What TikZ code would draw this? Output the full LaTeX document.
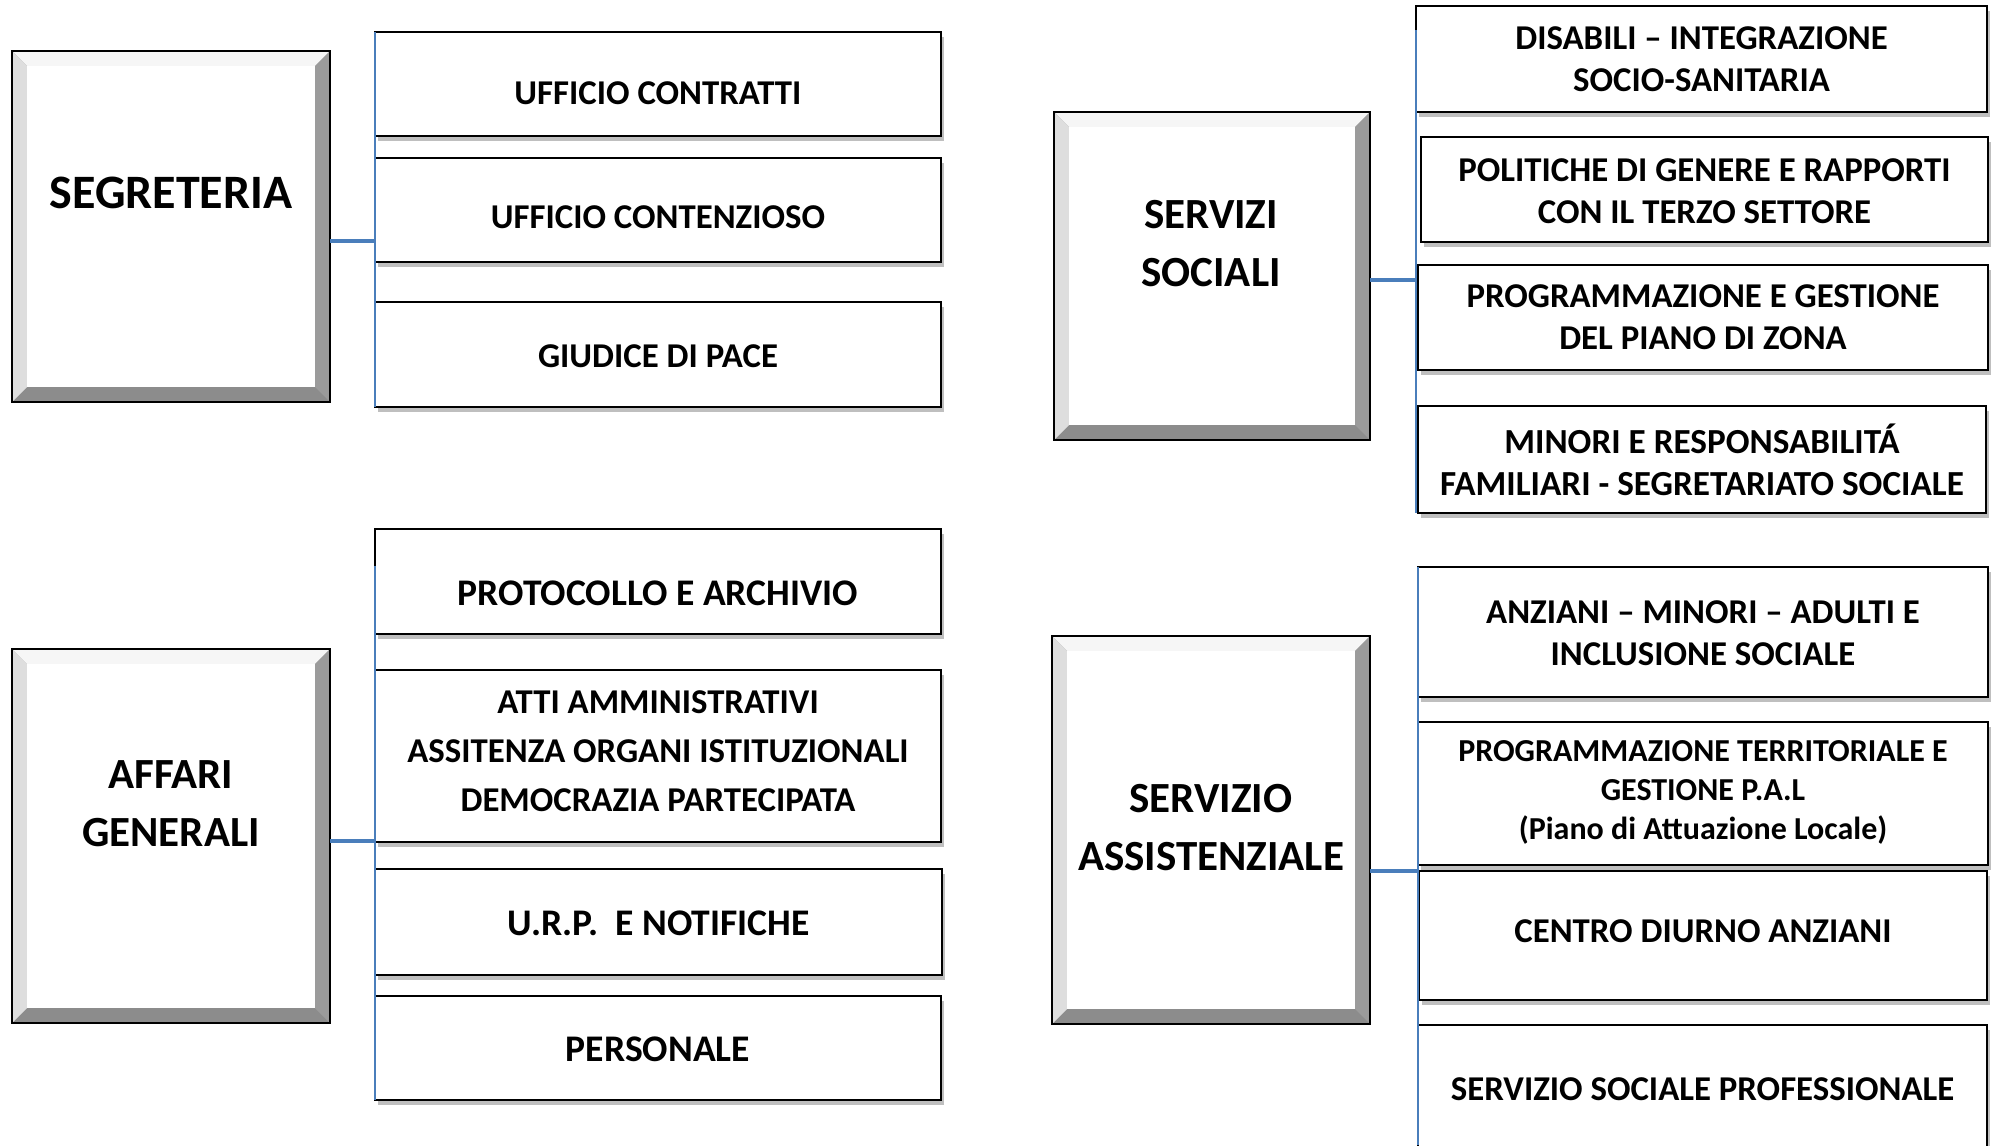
\documentclass[tikz,border=0pt]{standalone}
\usepackage{fontspec}
\setmainfont{Carlito}
\usetikzlibrary{shadows,calc}
\definecolor{bus}{RGB}{74,126,187}
\definecolor{bvL}{RGB}{222,222,222}
\definecolor{bvT}{RGB}{246,246,246}
\definecolor{bvR}{RGB}{155,155,155}
\definecolor{bvB}{RGB}{140,140,140}
\tikzset{
 sbox/.style={draw=black, line width=1pt, fill=white, inner sep=0pt, outer sep=0pt,
   drop shadow={shadow xshift=1.5pt, shadow yshift=-2.5pt, opacity=0.25, fill=black}},
 boxtext/.style={align=center, inner sep=0pt},
 bbox/.style={draw=black, line width=1pt, inner sep=0pt, outer sep=0pt, fill=bvB},
 btext/.style={align=center, font=\fontsize{21.5pt}{29pt}\selectfont\bfseries, inner sep=0pt},
 busline/.style={draw=bus, line width=0.8pt},
 hubline/.style={draw=bus, line width=1.6pt},
}
% bevelled box: name, x1, y1, x2, y2
\newcommand\bevelbx[5]{%
 \node[bbox, minimum width={(#4-#2)*0.5pt}, minimum height={(#5-#3)*0.5pt}] (#1) at ({(#2+#4)/2},{(#3+#5)/2}) {};
 \fill[bvT] (#1.north west) -- (#1.north east) -- ($(#1.north east)+(-15,15)$) -- ($(#1.north west)+(15,15)$) -- cycle;
 \fill[bvL] (#1.north west) -- ($(#1.north west)+(15,15)$) -- ($(#1.south west)+(15,-15)$) -- (#1.south west) -- cycle;
 \fill[bvR] (#1.north east) -- ($(#1.north east)+(-15,15)$) -- ($(#1.south east)+(-15,-15)$) -- (#1.south east) -- cycle;
 \fill[white] ($(#1.north west)+(15,15)$) rectangle ($(#1.south east)+(-15,-15)$);
 \draw[line width=1pt] (#1.north west) rectangle (#1.south east);
}
% plain box: name, x1, y1, x2, y2, text y, {size}{skip}, text
\newcommand\smallbx[8]{%
 \node[sbox, minimum width={(#4-#2)*0.5pt}, minimum height={(#5-#3)*0.5pt}] (#1) at ({(#2+#4)/2},{(#3+#5)/2}) {};
 \node[boxtext, font=\fontsize#7\selectfont\bfseries] (#1t) at ({(#2+#4)/2},#6) {#8};
}
\begin{document}
\begin{tikzpicture}[x=0.5pt, y=-0.5pt]
\useasboundingbox (0,0) rectangle (1995,1145);
\clip (0,0) rectangle (1995,1145);

% ---------- SEGRETERIA ----------
\bevelbx{seg}{12}{51}{330}{402}
\node[btext, font=\fontsize{24pt}{29pt}\selectfont\bfseries] (segT) at (171,193) {SEGRETERIA};
\smallbx{a1}{375}{32}{941}{136}{93}{{17.4pt}{21pt}}{UFFICIO CONTRATTI}
\smallbx{a2}{375}{158}{941}{262}{217.5}{{17.4pt}{21pt}}{UFFICIO CONTENZIOSO}
\smallbx{a3}{375}{302}{941}{407}{356}{{17.4pt}{21pt}}{GIUDICE DI PACE}
\coordinate (busAt) at (375,32);
\coordinate (busAb) at (375,407);
\coordinate (hubA) at (375,241);
\draw[busline] (busAt) -- (busAb);
\draw[hubline] (seg.east |- hubA) -- (hubA);

% ---------- AFFARI GENERALI ----------
\bevelbx{aff}{12}{649}{330}{1023}
\node[btext] (affT) at (171,804) {AFFARI\\GENERALI};
\smallbx{b1}{375}{529}{941}{634}{593}{{18.8pt}{22pt}}{PROTOCOLLO E ARCHIVIO}
\smallbx{b2}{375}{670}{941}{842}{751}{{17.4pt}{24.5pt}}{ATTI AMMINISTRATIVI\\ASSITENZA ORGANI ISTITUZIONALI\\DEMOCRAZIA PARTECIPATA}
\smallbx{b3}{375}{869}{942}{975}{923.5}{{18.8pt}{22pt}}{U.R.P.\ \ E NOTIFICHE}
\smallbx{b4}{375}{996}{941}{1100}{1049.5}{{18.8pt}{22pt}}{PERSONALE}
\coordinate (busBt) at (375,566);
\coordinate (busBb) at (375,1100);
\coordinate (hubB) at (375,841);
\draw[busline] (busBt) -- (busBb);
\draw[hubline] (aff.east |- hubB) -- (hubB);

% ---------- SERVIZI SOCIALI ----------
\bevelbx{soc}{1054}{112}{1370}{440}
\node[btext] (socT) at (1211,244) {SERVIZI\\SOCIALI};
\smallbx{c1}{1416}{6}{1987}{112}{59}{{17.4pt}{21pt}}{DISABILI -- INTEGRAZIONE\\SOCIO-SANITARIA}
\smallbx{c2}{1421}{137}{1988}{242}{191}{{17.4pt}{21pt}}{POLITICHE DI GENERE E RAPPORTI\\CON IL TERZO SETTORE}
\smallbx{c3}{1418}{265}{1988}{370}{317.5}{{17.4pt}{21pt}}{PROGRAMMAZIONE E GESTIONE\\DEL PIANO DI ZONA}
\smallbx{c4}{1418}{406}{1986}{513}{460}{{17.6pt}{21pt}}{MINORI E RESPONSABILITÁ\\FAMILIARI - SEGRETARIATO SOCIALE}
\coordinate (busCt) at (1416,30);
\coordinate (busCb) at (1416,513);
\coordinate (hubC) at (1416,280);
\draw[busline] (busCt) -- (busCb);
\draw[hubline] (soc.east |- hubC) -- (hubC);

% ---------- SERVIZIO ASSISTENZIALE ----------
\bevelbx{ass}{1052}{636}{1370}{1024}
\node[btext] (assT) at (1211,828) {SERVIZIO\\ASSISTENZIALE};
\smallbx{d1}{1418}{567}{1988}{697}{633}{{17.4pt}{21pt}}{ANZIANI -- MINORI -- ADULTI E\\INCLUSIONE SOCIALE}
\smallbx{d2}{1418}{722}{1988}{865}{792.5}{{16pt}{19.7pt}}{PROGRAMMAZIONE TERRITORIALE E\\GESTIONE P.A.L\\(Piano di Attuazione Locale)}
\smallbx{d3}{1419}{871}{1987}{1000}{931}{{17.4pt}{21pt}}{CENTRO DIURNO ANZIANI}
\smallbx{d4}{1418}{1025}{1987}{1175}{1089}{{17.4pt}{21pt}}{SERVIZIO SOCIALE PROFESSIONALE}
\coordinate (busDt) at (1418,567);
\coordinate (busDb) at (1418,1145);
\coordinate (hubD) at (1418,871);
\draw[busline] (busDt) -- (busDb);
\draw[hubline] (ass.east |- hubD) -- (hubD);
\end{tikzpicture}
\end{document}
